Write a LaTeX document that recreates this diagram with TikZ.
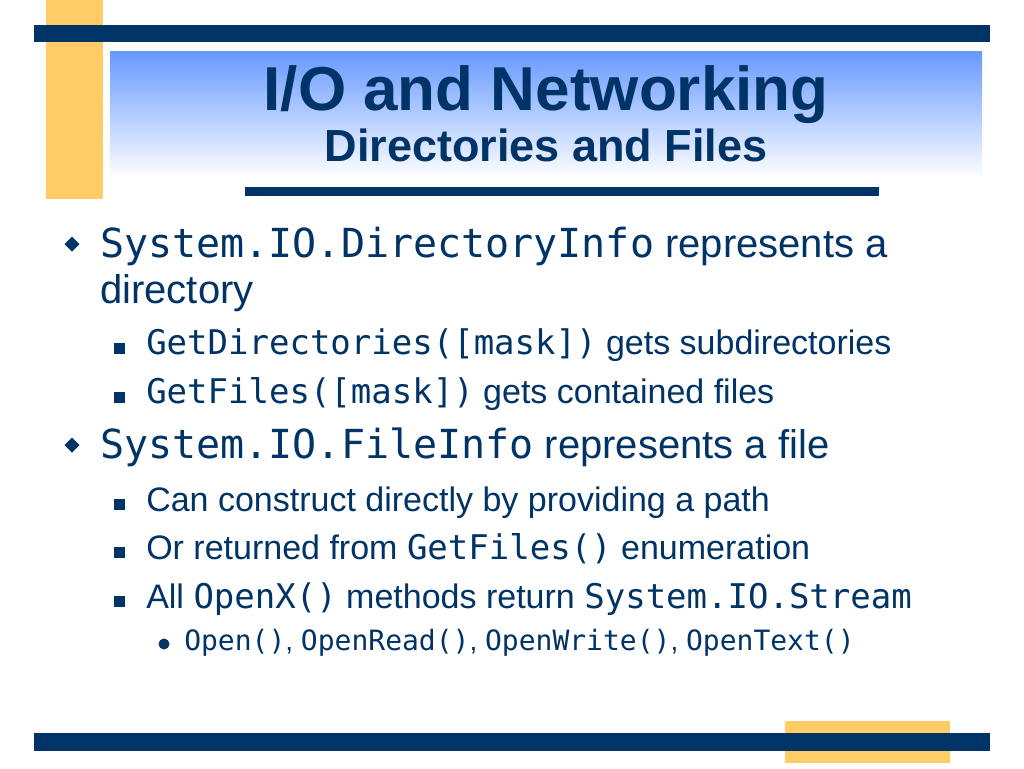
\documentclass[tikz,border=0pt]{standalone}
\usepackage{fontspec}
\setmainfont{Liberation Sans}
\setmonofont{DejaVu Sans Mono}
\definecolor{navy}{HTML}{003366}
\definecolor{gold}{HTML}{FFCC66}
\definecolor{gradblue}{HTML}{6699FF}
\tikzset{
  txt/.style={anchor=base west, inner sep=0pt, text=navy},
  lvlone/.style={txt, font=\fontsize{30}{36}\selectfont},
  lvltwo/.style={txt, font=\fontsize{25.5}{30}\selectfont},
  lvlthree/.style={txt, font=\fontsize{21}{25}\selectfont},
  bar/.style={fill=navy, draw=none},
  goldbar/.style={fill=gold, draw=none},
}
\newcommand{\dbul}[2]{\fill[navy] (#1-7.5,#2) -- (#1,#2-7.5) -- (#1+7.5,#2) -- (#1,#2+7.5) -- cycle;}
\newcommand{\sbul}[2]{\fill[navy] (#1-5.5,#2-5.5) rectangle (#1+5.5,#2+5.5);}
\begin{document}
\begin{tikzpicture}[x=0.75pt,y=-0.75pt]
\useasboundingbox (0,0) rectangle (1024,768);
\fill[white] (0,0) rectangle (1024,768);
% decorative bars
\fill[goldbar] (46,0) rectangle (103,199);
\shade[top color=gradblue, bottom color=white, draw=none] (110,51) rectangle (982,178);
\fill[bar] (34,25) rectangle (990,42);
\fill[bar] (245,187) rectangle (879,196);
\fill[goldbar] (785,721) rectangle (950,763);
\fill[bar] (34,733) rectangle (990,751);
% title
\node[anchor=base, inner sep=0pt, text=navy, font=\fontsize{46.5}{50}\selectfont\bfseries] (title) at (546,110) {I/O and Networking};
\node[anchor=base, inner sep=0pt, text=navy, font=\fontsize{33.75}{38}\selectfont\bfseries] (subtitle) at (546,161) {Directories and Files};
% bullets
\dbul{72}{244}
\node[lvlone] (l1) at (100,257) {\texttt{System.IO.DirectoryInfo} represents a};
\node[lvlone] (l2) at (100,303) {directory};
\sbul{119.5}{348.5}
\node[lvltwo] (l3) at (146,354) {\texttt{GetDirectories([mask])} gets subdirectories};
\sbul{119.5}{397.5}
\node[lvltwo] (l4) at (146,403) {\texttt{GetFiles([mask])} gets contained files};
\dbul{72}{445}
\node[lvlone] (l5) at (100,458) {\texttt{System.IO.FileInfo} represents a file};
\sbul{119.5}{504.5}
\node[lvltwo] (l6) at (146,511) {Can construct directly by providing a path};
\sbul{119.5}{552.5}
\node[lvltwo] (l7) at (146,559) {Or returned from \texttt{GetFiles()} enumeration};
\sbul{119.5}{601.5}
\node[lvltwo] (l8) at (146,608) {All \texttt{OpenX()} methods return \texttt{System.IO.Stream}};
\fill[navy] (164,644) circle (5.5);
\node[lvlthree] (l9) at (184,650) {\texttt{Open()}, \texttt{OpenRead()}, \texttt{OpenWrite()}, \texttt{OpenText()}};
\end{tikzpicture}
\end{document}
